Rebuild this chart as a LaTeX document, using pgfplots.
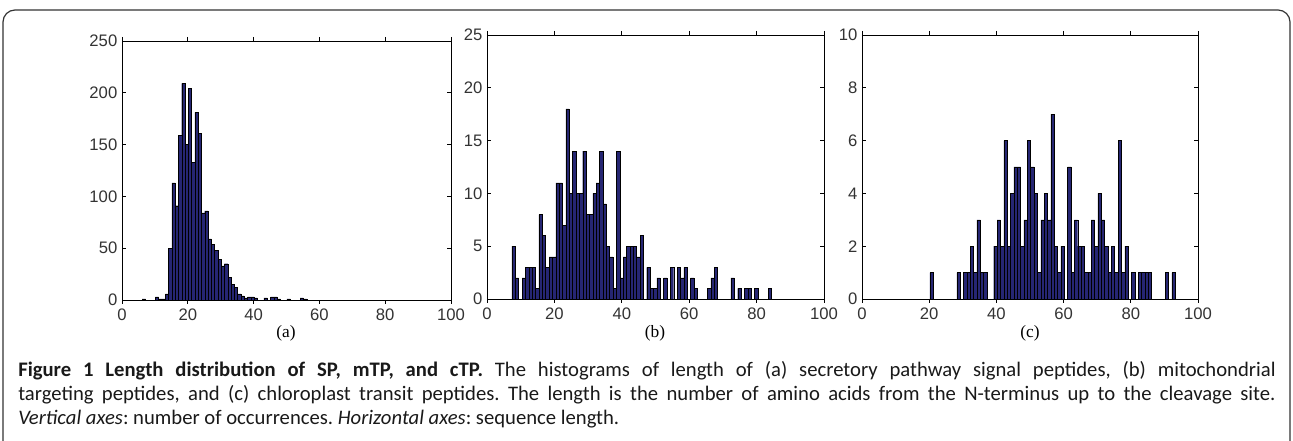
\documentclass[border=0pt]{standalone}
\usepackage{pgfplots}
\pgfplotsset{compat=1.18}
\usepackage{fontspec}
\setmainfont{Liberation Sans}
\newfontfamily\seriffont{Liberation Serif}
\newfontfamily\capfont{Carlito}

\definecolor{barblue}{RGB}{38,38,115}

% common look of the three histograms
\pgfplotsset{
  histo/.style={
    scale only axis,
    anchor=south west,
    xmin=0, xmax=100,
    ymin=0,
    xtick={0,20,...,100},
    tick align=inside,
    major tick length=3pt,
    axis line style={line width=0.6pt},
    tick style={line width=0.5pt, black},
    ticklabel style={font=\fontsize{12.5}{14}\selectfont, text=black!80},
    /pgf/number format/assume math mode=true,
    ybar, bar width=1, bar shift=0pt,
  },
  bars/.style={fill=barblue, draw=black, line width=0.3pt},
}

\begin{document}
\begin{tikzpicture}
\useasboundingbox (0,0) rectangle (969.75pt,330.75pt);
\draw[line width=0.9pt, black!80, rounded corners=9pt]
  (2.25pt,0) -- (2.25pt,323.25pt) -- (967.5pt,323.25pt) -- (967.5pt,0);

% (a) secretory pathway signal peptides
\begin{axis}[histo, at={(91.5pt,105.75pt)}, width=246.75pt, height=194.25pt,
  ymax=250, ytick={0,50,...,250}]
\addplot[bars] coordinates {
 (6.65,1) (10.65,3) (11.65,1) (12.65,1) (13.65,6) (14.65,50) (15.65,113)
 (16.65,91) (17.65,159) (18.65,209) (19.65,150) (20.65,204) (21.65,133)
 (22.65,181) (23.65,161) (24.65,84) (25.65,86) (26.65,59) (27.65,54)
 (28.65,48) (29.65,39) (30.65,33) (31.65,35) (32.65,22) (33.65,15)
 (34.65,12) (35.65,6) (36.65,4) (37.65,2) (38.65,3) (39.65,3) (40.65,2)
 (43.65,2) (45.65,3) (46.65,3) (47.65,1) (50.65,1) (54.65,2) (55.65,1)
};
\end{axis}

% (b) mitochondrial targeting peptides
\begin{axis}[histo, at={(365.25pt,106.5pt)}, width=252.75pt, height=198pt,
  ymax=25, ytick={0,5,...,25}]
\addplot[bars] coordinates {
 (7.9,5) (8.9,2) (10.9,2) (11.9,3) (12.9,3) (13.9,3) (14.9,1) (15.9,8)
 (16.9,6) (17.9,3) (18.9,4) (19.9,4) (20.9,11) (21.9,11) (22.9,7) (23.9,18)
 (24.9,10) (25.9,14) (26.9,10) (27.9,10) (28.9,14) (29.9,8) (30.9,8)
 (31.9,10) (32.9,11) (33.9,14) (34.9,9) (35.9,5) (36.9,4) (37.9,1)
 (38.9,14) (39.9,2) (40.9,4) (41.9,5) (42.9,5) (43.9,5) (44.9,4) (45.9,6)
 (47.9,3) (48.9,1) (49.9,1) (50.9,2) (52.9,2) (54.9,3) (56.9,3) (57.9,2)
 (58.9,3) (60.9,2) (61.9,1) (65.9,1) (66.9,2) (67.9,3) (72.9,2) (74.9,1)
 (76.9,1) (77.9,1) (79.9,1) (83.9,1)
};
\end{axis}

% (c) chloroplast transit peptides
\begin{axis}[histo, at={(646.5pt,106.5pt)}, width=252pt, height=198pt,
  ymax=10, ytick={0,2,...,10}]
\addplot[bars] coordinates {
 (20.7,1) (28.7,1) (30.7,1) (31.7,1) (32.7,2) (33.7,1) (34.7,3) (35.7,1)
 (36.7,1) (39.7,2) (40.7,3) (41.7,2) (42.7,6) (43.7,2) (44.7,4) (45.7,5)
 (46.7,5) (47.7,2) (48.7,3) (49.7,6) (50.7,5) (51.7,4) (52.7,1) (53.7,3)
 (54.7,4) (55.7,3) (56.7,7) (57.7,2) (58.7,1) (59.7,2) (61.7,5) (62.7,1)
 (63.7,3) (64.7,2) (65.7,2) (66.7,1) (67.7,1) (68.7,3) (69.7,2) (70.7,4)
 (71.7,3) (72.7,2) (73.7,1) (74.7,2) (75.7,1) (76.7,6) (77.7,1) (78.7,2)
 (80.7,1) (82.7,1) (83.7,1) (84.7,1) (85.7,1) (90.7,1) (92.7,1)
};
\end{axis}

\begin{scope}[every node/.style={font=\seriffont\fontsize{13}{15}\selectfont}]
\node at (214.5pt,80.5pt) {(a)};
\node at (491.25pt,80.5pt) {(b)};
\node at (772.5pt,80.5pt) {(c)};
\end{scope}

\node[anchor=north west, inner sep=0pt, text width=943pt, align=justify,
  font=\capfont\fontsize{15.5}{18}\selectfont, text=black!90] at (13.5pt,60pt)
 {\frenchspacing\textbf{Figure 1 Length distribution of SP, mTP, and cTP.} The histograms of length of (a) secretory pathway signal peptides, (b) mitochondrial\linebreak
 targeting peptides, and (c) chloroplast transit peptides. The length is the number of amino acids from the N-terminus up to the cleavage site.\linebreak
 \textit{Vertical axes}: number of occurrences. \textit{Horizontal axes}: sequence length.\par};
\end{tikzpicture}
\end{document}
